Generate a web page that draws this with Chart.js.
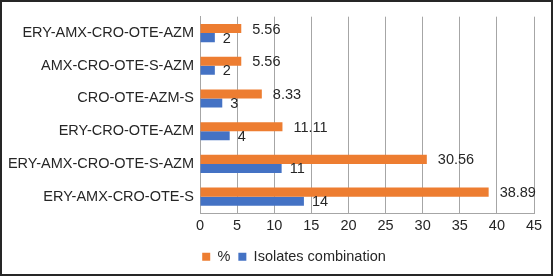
<!DOCTYPE html>
<html>
<head>
<meta charset="utf-8">
<script src="https://cdn.jsdelivr.net/npm/chart.js@4"></script>
<style>
  html, body { margin: 0; padding: 0; background: #fff; }
  #wrap {
    position: absolute; left: 0; top: 0;
    width: 553px; height: 276px;
    box-sizing: border-box;
    border: 2px solid #262626;
  }
  #chart { display: block; }
</style>
</head>
<body>
<div id="wrap"><canvas id="chart" width="549" height="272"></canvas></div>
<script>
// combinations, top to bottom
const combos = [
  'ERY-AMX-CRO-OTE-AZM',
  'AMX-CRO-OTE-S-AZM',
  'CRO-OTE-AZM-S',
  'ERY-CRO-OTE-AZM',
  'ERY-AMX-CRO-OTE-S-AZM',
  'ERY-AMX-CRO-OTE-S',
];
const percent = [5.56, 5.56, 8.33, 11.11, 30.56, 38.89];
const isolates = [2, 2, 3, 4, 11, 14];
const xTicks = [0, 5, 10, 15, 20, 25, 30, 35, 40, 45];

const FONT = { family: '"Liberation Sans", Arial, sans-serif', size: 14.5 };
const GRID = '#a6a6a6';

// value labels at the end of each bar
const barLabels = {
  id: 'barLabels',
  afterDatasetsDraw(chart) {
    const ctx = chart.ctx;
    ctx.save();
    ctx.font = `${FONT.size}px ${FONT.family}`;
    ctx.fillStyle = '#262626';
    ctx.textBaseline = 'middle';
    ctx.textAlign = 'left';
    chart.data.datasets.forEach((ds, i) => {
      const meta = chart.getDatasetMeta(i);
      const off = i === 0 ? 11 : 8;
      meta.data.forEach((bar, j) => {
        ctx.fillText(String(ds.data[j]), bar.x + off, bar.y + 1);
      });
    });
    ctx.restore();
  }
};

// nudge the legend to the right like the original
const legendShift = {
  id: 'legendShift',
  afterLayout(chart) {
    chart.legend.left += 26;
    chart.legend.right += 26;
  }
};

new Chart(document.getElementById('chart').getContext('2d'), {
  type: 'bar',
  data: {
    labels: combos,
    datasets: [
      {
        label: '%',
        data: percent,
        backgroundColor: '#ed7d31',
        categoryPercentage: 0.555,
        barPercentage: 1,
      },
      {
        label: 'Isolates combination',
        data: isolates,
        backgroundColor: '#4472c4',
        categoryPercentage: 0.555,
        barPercentage: 1,
      }
    ]
  },
  options: {
    indexAxis: 'y',
    responsive: false,
    animation: false,
    layout: { padding: { top: 7, right: 17, bottom: 0, left: 0 } },
    plugins: {
      legend: {
        position: 'bottom',
        labels: {
          color: '#262626',
          font: FONT,
          boxWidth: 8,
          boxHeight: 8,
          padding: 8,
        }
      },
      tooltip: { enabled: false },
    },
    scales: {
      x: {
        min: 0,
        max: 45,
        afterBuildTicks: s => { s.ticks = xTicks.map(v => ({ value: v })); },
        afterFit: s => { s.height = 28.5; },
        grid: { color: GRID, drawTicks: false },
        border: { display: true, color: GRID },
        ticks: { color: '#262626', font: FONT, padding: 4 },
      },
      y: {
        afterFit: s => { s.width = 198; },
        grid: { display: false, drawTicks: false },
        border: { display: true, color: GRID },
        ticks: { color: '#262626', font: FONT, padding: 6 },
      }
    }
  },
  plugins: [barLabels, legendShift]
});
</script>
</body>
</html>
